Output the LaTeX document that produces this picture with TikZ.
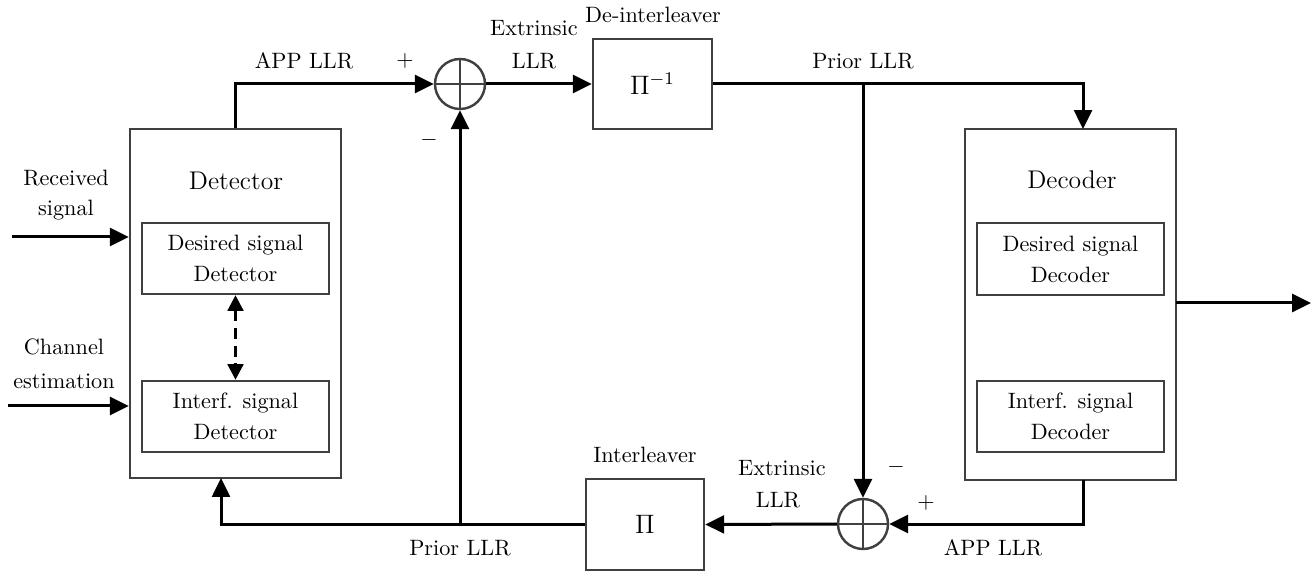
\documentclass[tikz,border=0pt]{standalone}
\usetikzlibrary{arrows.meta}
\begin{document}
\begin{tikzpicture}[x=0.45pt,y=-0.45pt,
  box/.style={draw=black!75, line width=1.1pt, inner sep=0pt, align=center},
  arr/.style={line width=1.35pt, -{Triangle[length=8.5pt,width=8pt]}},
  ln/.style={line width=1.35pt},
  lbl/.style={inner sep=0pt, align=center},
  adder/.style={circle, draw=black!75, line width=1.1pt, minimum size=50*0.45pt, inner sep=0pt},
  title/.style={inner sep=0pt, font=\fontsize{11.5}{14}\selectfont}]
\useasboundingbox (0,0) rectangle (1313,575);
% blocks
\node[box, minimum width=211*0.45pt, minimum height=349*0.45pt] (det) at (235.5,303.5) {};
\node[title] (dett) at (236,181) {Detector};
\node[box, minimum width=187*0.45pt, minimum height=71*0.45pt] (ddet) at (235.5,258.5) {Desired signal\\[2pt]Detector};
\node[box, minimum width=187*0.45pt, minimum height=71*0.45pt] (idet) at (235.5,416.5) {Interf. signal\\[2pt]Detector};
\node[box, minimum width=211*0.45pt, minimum height=351*0.45pt] (dec) at (1070.5,304.5) {};
\node[title] (dect) at (1072,180) {Decoder};
\node[box, minimum width=187*0.45pt, minimum height=72*0.45pt] (ddec) at (1070.5,259) {Desired signal\\[2pt]Decoder};
\node[box, minimum width=187*0.45pt, minimum height=71*0.45pt] (idec) at (1070.5,416.5) {Interf. signal\\[2pt]Decoder};
\node[box, minimum width=119*0.45pt, minimum height=90*0.45pt, font=\large] (pinv) at (652.5,84) {$\Pi^{-1}$};
\node[box, minimum width=118*0.45pt, minimum height=91*0.45pt, font=\large] (pi) at (645,524.5) {$\Pi$};
\node[adder] (add1) at (460,84) {};
\node[adder] (add2) at (863,524) {};
\draw[black!75, line width=1.1pt] (add1.north) -- (add1.south) (add1.west) -- (add1.east);
\draw[black!75, line width=1.1pt] (add2.north) -- (add2.south) (add2.west) -- (add2.east);
% coordinates
\coordinate (r0) at (12,237);
\coordinate (c0) at (8,406);
\coordinate (b1) at (863,84);
\coordinate (c1) at (1083,129);
\coordinate (c2) at (1083,480);
\coordinate (c3) at (221,478);
\coordinate (b2) at (460,524);
\coordinate (o1) at (1176,303);
\coordinate (o2) at (1311,303);
% connectors
\draw[arr] (r0) -- (r0 -| det.west);
\draw[arr] (c0) -- (c0 -| det.west);
\draw[line width=1.35pt, dashed, dash pattern=on 5pt off 3pt, {Triangle[length=7pt,width=7pt]}-{Triangle[length=7pt,width=7pt]}] (ddet.south) -- (idet.north);
\draw[arr] (det.north) |- (add1.west);
\draw[arr] (add1.east) -- (pinv.west);
\draw[arr] (pinv.east) -| (c1);
\draw[arr] (b1) -- (add2.north);
\draw[arr] (c2) |- (add2.east);
\draw[arr] (add2.west) -- (pi.east);
\draw[arr] (pi.west) -| (c3);
\draw[arr] (b2) -- (add1.south);
\draw[arr] (o1) -- (o2);
% labels
\node[lbl] at (304,61) {APP LLR};
\node[lbl] at (405,61) {$+$};
\node[lbl] at (429,140) {$-$};
\node[lbl] at (534,28) {Extrinsic};
\node[lbl] at (534,61) {LLR};
\node[lbl] at (653,15) {De-interleaver};
\node[lbl] at (863,61) {Prior LLR};
\node[lbl] at (66,178) {Received};
\node[lbl] at (66,210) {signal};
\node[lbl] at (64,347) {Channel};
\node[lbl] at (64,381) {estimation};
\node[lbl] at (896,467) {$-$};
\node[lbl] at (926,503) {$+$};
\node[lbl] at (993,548) {APP LLR};
\node[lbl] at (782,468) {Extrinsic};
\node[lbl] at (778,500) {LLR};
\node[lbl] at (645,455) {Interleaver};
\node[lbl] at (460,548) {Prior LLR};
\end{tikzpicture}
\end{document}
